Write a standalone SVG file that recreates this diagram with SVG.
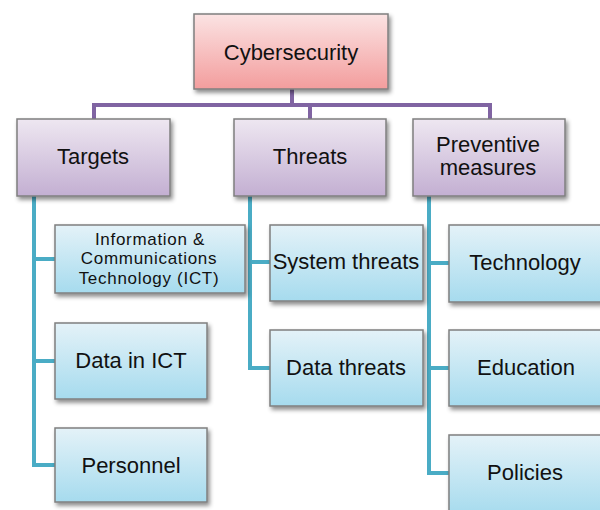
<svg xmlns="http://www.w3.org/2000/svg" width="600" height="510" viewBox="0 0 600 510">
<defs>
<linearGradient id="gRed" x1="0" y1="0" x2="0" y2="1"><stop offset="0" stop-color="#fbe3e3"/><stop offset="1" stop-color="#f39d9d"/></linearGradient>
<linearGradient id="gPur" x1="0" y1="0" x2="0" y2="1"><stop offset="0" stop-color="#eee7f1"/><stop offset="1" stop-color="#c3afd2"/></linearGradient>
<linearGradient id="gBlu" x1="0" y1="0" x2="0" y2="1"><stop offset="0" stop-color="#e4f2f8"/><stop offset="1" stop-color="#a6dbee"/></linearGradient>
<filter id="sh" x="-10%" y="-10%" width="130%" height="140%"><feDropShadow dx="2" dy="3" stdDeviation="2" flood-color="#000" flood-opacity="0.45"/></filter>
</defs>
<style>
.box{stroke:#7f7f7f;stroke-width:1.5;filter:url(#sh)}
.red{fill:url(#gRed)}
.pur{fill:url(#gPur)}
.blu{fill:url(#gBlu)}
text{font-family:"Liberation Sans",Arial,sans-serif;fill:#111;text-anchor:middle;font-size:22px}
.t17{font-size:17px;letter-spacing:0.7px}
.pl{stroke:#8064a2;stroke-width:4;fill:none}
.cl{stroke:#4aacc5;stroke-width:4;fill:none}
</style>
<g id="connectors">
<path class="pl" d="M292 89V105M94 105H490M94 103V119M310 103V119M490 103V119"/>
<path class="cl" d="M34 196V465H55M34 259H55M34 361H55"/>
<path class="cl" d="M250 196V368H270M250 262H270"/>
<path class="cl" d="M429 196V473H449M429 263H449M429 368H449"/>
</g>
<g id="cybersecurity"><rect class="box red" x="194" y="14" width="194" height="75"/><text x="291" y="60">Cybersecurity</text></g>
<g id="targets"><rect class="box pur" x="17" y="119" width="153" height="77"/><text x="93" y="164">Targets</text></g>
<g id="threats"><rect class="box pur" x="234" y="119" width="152" height="77"/><text x="310" y="164">Threats</text></g>
<g id="preventive"><rect class="box pur" x="413" y="119" width="152" height="77"/><text x="488" y="152">Preventive</text><text x="488" y="175">measures</text></g>
<g id="ict"><rect class="box blu" x="55" y="225" width="190" height="68"/><text class="t17" x="150" y="245">Information &amp;</text><text class="t17" x="149" y="264">Communications</text><text class="t17" x="149" y="284">Technology (ICT)</text></g>
<g id="data-in-ict"><rect class="box blu" x="55" y="323" width="152" height="76"/><text x="131" y="368">Data in ICT</text></g>
<g id="personnel"><rect class="box blu" x="55" y="428" width="152" height="74"/><text x="131" y="473">Personnel</text></g>
<g id="system-threats"><rect class="box blu" x="270" y="225" width="153" height="76"/><text x="346" y="269">System threats</text></g>
<g id="data-threats"><rect class="box blu" x="270" y="330" width="153" height="76"/><text x="346" y="375">Data threats</text></g>
<g id="technology"><rect class="box blu" x="449" y="225" width="153" height="77"/><text x="525" y="270">Technology</text></g>
<g id="education"><rect class="box blu" x="449" y="330" width="153" height="76"/><text x="526" y="375">Education</text></g>
<g id="policies"><rect class="box blu" x="449" y="435" width="153" height="80"/><text x="525" y="480">Policies</text></g>
</svg>
